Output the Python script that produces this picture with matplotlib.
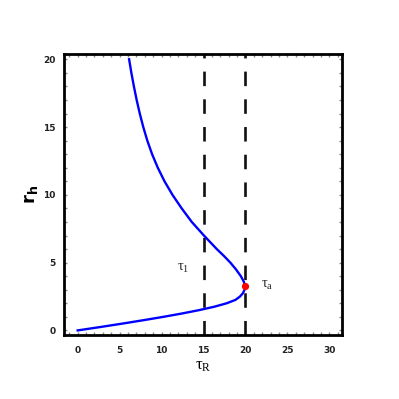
import matplotlib
matplotlib.use("Agg")
import matplotlib.pyplot as plt
from matplotlib.ticker import MultipleLocator

# data (tau_R as a function of r_h)
r_h = [0.0, 0.25, 0.5, 0.75, 1.0, 1.25, 1.5, 1.75, 2.0, 2.25, 2.5, 2.75, 3.0, 3.2,
       3.4, 3.6, 4.0, 4.5, 5.0, 5.5, 6.0, 7.0, 8.0, 9.0, 10.0, 11.0, 12.0,
       13.0, 14.0, 15.0, 16.0, 17.0, 18.0, 19.0, 20.0]
tau_R = [0.0, 2.7, 5.3, 7.8, 10.2, 12.45, 14.5, 16.3, 17.75, 18.8, 19.35, 19.7, 19.89, 19.93,
         19.9, 19.8, 19.45, 18.87, 18.2, 17.42, 16.58, 15.05, 13.6, 12.4, 11.3, 10.35, 9.55,
         8.87, 8.3, 7.82, 7.4, 7.03, 6.7, 6.4, 6.13]
vlines_x = [15, 20]
tau_a = (19.9, 3.25)
xticks = [0, 5, 10, 15, 20, 25, 30]
yticks = [0, 5, 10, 15, 20]

fig = plt.figure(figsize=(3.99, 3.99), dpi=100)
ax = fig.add_axes([0.160, 0.160, 0.697, 0.705])

ax.plot(tau_R, r_h, color='#0000ff', lw=1.7, solid_joinstyle='round', zorder=3)
for xv in vlines_x:
    ax.axvline(xv, color='#111111', lw=1.9, dashes=(5.5, 5.0), zorder=2)
ax.plot([tau_a[0]], [tau_a[1]], 'o', color='red', ms=4.2, zorder=4)

ax.text(12.57, 4.57, r'$\mathregular{\tau_1}$', fontsize=10.5, family='Liberation Serif',
        ha='center', va='center', color='#222222')
ax.text(22.6, 3.33, r'$\mathregular{\tau_a}$', fontsize=10.5, family='Liberation Serif',
        ha='center', va='center', color='#222222')

ax.set_xlim(-1.65, 31.5)
ax.set_ylim(-0.35, 20.4)
ax.set_xticks(xticks)
ax.set_yticks(yticks)
ax.xaxis.set_minor_locator(MultipleLocator(1))
ax.yaxis.set_minor_locator(MultipleLocator(1))

for s in ax.spines.values():
    s.set_linewidth(2.0)
    s.set_color('black')

ax.tick_params(which='both', direction='in', top=True, right=True,
               color='#888888', length=2.5, width=1.0)
ax.tick_params(axis='x', which='major', labelsize=6.5, pad=8)
ax.tick_params(axis='y', which='major', labelsize=6.5, pad=6)
for lab in ax.get_xticklabels() + ax.get_yticklabels():
    lab.set_family(['Liberation Sans Narrow', 'DejaVu Sans'])
    lab.set_fontweight('bold')
    lab.set_color('#222222')

ax.set_xlabel(r'$\mathregular{\tau_R}$', fontsize=12, family='Liberation Serif', labelpad=2)
ax.set_ylabel(r'$\mathbf{r_h}$', fontsize=13, family='DejaVu Sans', labelpad=2)

fig.savefig('out.png', dpi=100)
